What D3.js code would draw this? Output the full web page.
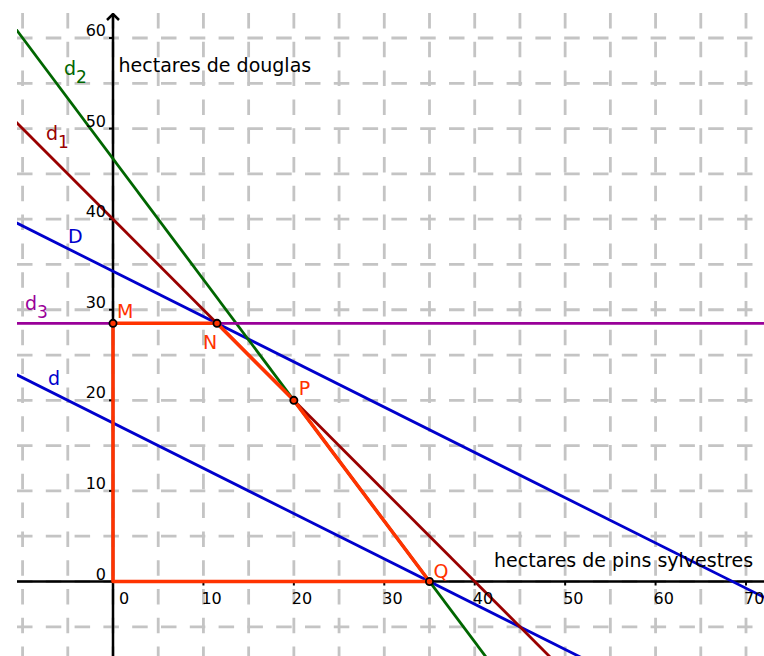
<!DOCTYPE html>
<html>
<head>
<meta charset="utf-8">
<script src="https://cdn.jsdelivr.net/npm/d3@7"></script>
<style>
  body { margin: 0; background: #fff; }
  text { font-family: "DejaVu Sans", sans-serif; }
</style>
</head>
<body>
<svg id="chart" width="764" height="656"></svg>
<script>
// ticks and grid
const xTicks = [0, 10, 20, 30, 40, 50, 60, 70];
const yTicks = [0, 10, 20, 30, 40, 50, 60];
const gridX = [-10, -5, 0, 5, 10, 15, 20, 25, 30, 35, 40, 45, 50, 55, 60, 65, 70];
const gridY = [-5, 0, 5, 10, 15, 20, 25, 30, 35, 40, 45, 50, 55, 60];

// lines, each given by two points
const lineNames = ["d", "D", "d1", "d2", "d3"];
const lineP1 = [[0, 17.5], [0, 34.25], [0, 40], [0, 46.67], [0, 28.5]];
const lineP2 = [[35, 0], [68.5, 0], [40, 0], [35, 0], [70, 28.5]];
const lineColors = ["#0000cc", "#0000cc", "#990000", "#006600", "#990099"];

// feasible region O, M, N, P, Q
const polyX = [0, 0, 11.5, 20, 35];
const polyY = [0, 28.5, 28.5, 20, 0];

const pointNames = ["M", "N", "P", "Q"];
const pointX = [0, 11.5, 20, 35];
const pointY = [28.5, 28.5, 20, 0];

const W = 764, H = 656;
const plot = { left: 17, top: 13 };

const x = d3.scaleLinear().domain([0, 70]).range([113, 746]);
const y = d3.scaleLinear().domain([0, 60]).range([581.5, 38]);

const svg = d3.select("#chart");

svg.append("defs").append("clipPath").attr("id", "clip")
  .append("rect")
  .attr("x", plot.left).attr("y", plot.top)
  .attr("width", W - plot.left).attr("height", H - plot.top);

const g = svg.append("g").attr("clip-path", "url(#clip)");

// dashed grid
g.selectAll(".gv")
  .data(gridX)
  .enter().append("line")
  .attr("x1", d => x(d)).attr("x2", d => x(d))
  .attr("y1", plot.top).attr("y2", H)
  .attr("stroke", "#c4c4c4")
  .attr("stroke-width", 2.8)
  .attr("stroke-dasharray", "15.5,13.3");

g.selectAll(".gh")
  .data(gridY)
  .enter().append("line")
  .attr("y1", d => y(d)).attr("y2", d => y(d))
  .attr("x1", plot.left).attr("x2", W)
  .attr("stroke", "#c4c4c4")
  .attr("stroke-width", 2.8)
  .attr("stroke-dasharray", "15.5,13.3");

// axes
g.append("line")
  .attr("x1", plot.left).attr("x2", W)
  .attr("y1", y(0)).attr("y2", y(0))
  .attr("stroke", "#000").attr("stroke-width", 2.5);

g.append("line")
  .attr("x1", x(0)).attr("x2", x(0))
  .attr("y1", plot.top + 1).attr("y2", H)
  .attr("stroke", "#000").attr("stroke-width", 2.5);

// arrow heads
g.append("path")
  .attr("d", `M${x(0) - 6},${plot.top + 7} L${x(0)},${plot.top + 1} L${x(0) + 6},${plot.top + 7}`)
  .attr("fill", "none").attr("stroke", "#000").attr("stroke-width", 2.5);

g.selectAll(".xt")
  .data(xTicks.filter(d => d !== 0))
  .enter().append("line")
  .attr("x1", d => x(d)).attr("x2", d => x(d))
  .attr("y1", y(0)).attr("y2", y(0) + 4)
  .attr("stroke", "#000").attr("stroke-width", 2);

g.selectAll(".yt")
  .data(yTicks.filter(d => d !== 0))
  .enter().append("line")
  .attr("x1", x(0) - 4).attr("x2", x(0))
  .attr("y1", d => y(d)).attr("y2", d => y(d))
  .attr("stroke", "#000").attr("stroke-width", 2);

svg.selectAll(".xl")
  .data(xTicks)
  .enter().append("text")
  .attr("x", d => d === 0 ? x(d) + 6 : x(d) - 2)
  .attr("y", y(0) + 22)
  .attr("font-size", 16)
  .text(d => d);

svg.selectAll(".yl")
  .data(yTicks)
  .enter().append("text")
  .attr("x", x(0) - 7)
  .attr("y", d => y(d) - 2)
  .attr("text-anchor", "end")
  .attr("font-size", 16)
  .text(d => d);

// straight lines extended across the view
const lineGen = d3.line().x(d => x(d[0])).y(d => y(d[1]));
lineNames.forEach((name, i) => {
  const [x1, y1] = lineP1[i], [x2, y2] = lineP2[i];
  const slope = (y2 - y1) / (x2 - x1);
  const ends = [-20, 80].map(t => [t, y1 + (t - x1) * slope]);
  g.append("path")
    .datum(ends)
    .attr("d", lineGen)
    .attr("fill", "none")
    .attr("stroke", lineColors[i])
    .attr("stroke-width", 2.8);
});

// polygon
g.append("path")
  .datum(polyX.map((v, i) => [v, polyY[i]]))
  .attr("d", d => lineGen(d) + "Z")
  .attr("fill", "none")
  .attr("stroke", "#ff3300")
  .attr("stroke-width", 3.5)
  .attr("stroke-linejoin", "round");

// points
g.selectAll(".pt")
  .data(pointNames)
  .enter().append("circle")
  .attr("cx", (d, i) => x(pointX[i]))
  .attr("cy", (d, i) => y(pointY[i]))
  .attr("r", 3.6)
  .attr("fill", "#ff3300")
  .attr("stroke", "#000")
  .attr("stroke-width", 1.8);

// point labels (pixel offsets from the point)
const pointLabelDx = [4, -14, 5, 4];
const pointLabelDy = [-5, 26, -5, -4];
svg.selectAll(".pl")
  .data(pointNames)
  .enter().append("text")
  .attr("x", (d, i) => x(pointX[i]) + pointLabelDx[i])
  .attr("y", (d, i) => y(pointY[i]) + pointLabelDy[i])
  .attr("font-size", 19)
  .attr("fill", "#ff3300")
  .text(d => d);

// line labels
const lineLabelPos = [[48, 385], [68, 242.5], [46, 140], [64, 75], [25, 310]];
lineNames.forEach((name, i) => {
  const t = svg.append("text")
    .attr("x", lineLabelPos[i][0])
    .attr("y", lineLabelPos[i][1])
    .attr("font-size", 19)
    .attr("fill", lineColors[i]);
  t.append("tspan").text(name[0]);
  if (name.length > 1) {
    t.append("tspan").attr("font-size", 17).attr("dy", 8).text(name.slice(1));
  }
});

// axis titles
svg.append("text")
  .attr("x", 118.5).attr("y", 72)
  .attr("font-size", 19)
  .text("hectares de douglas");

svg.append("text")
  .attr("x", 494).attr("y", 566.5)
  .attr("font-size", 19)
  .text("hectares de pins sylvestres");
</script>
</body>
</html>
